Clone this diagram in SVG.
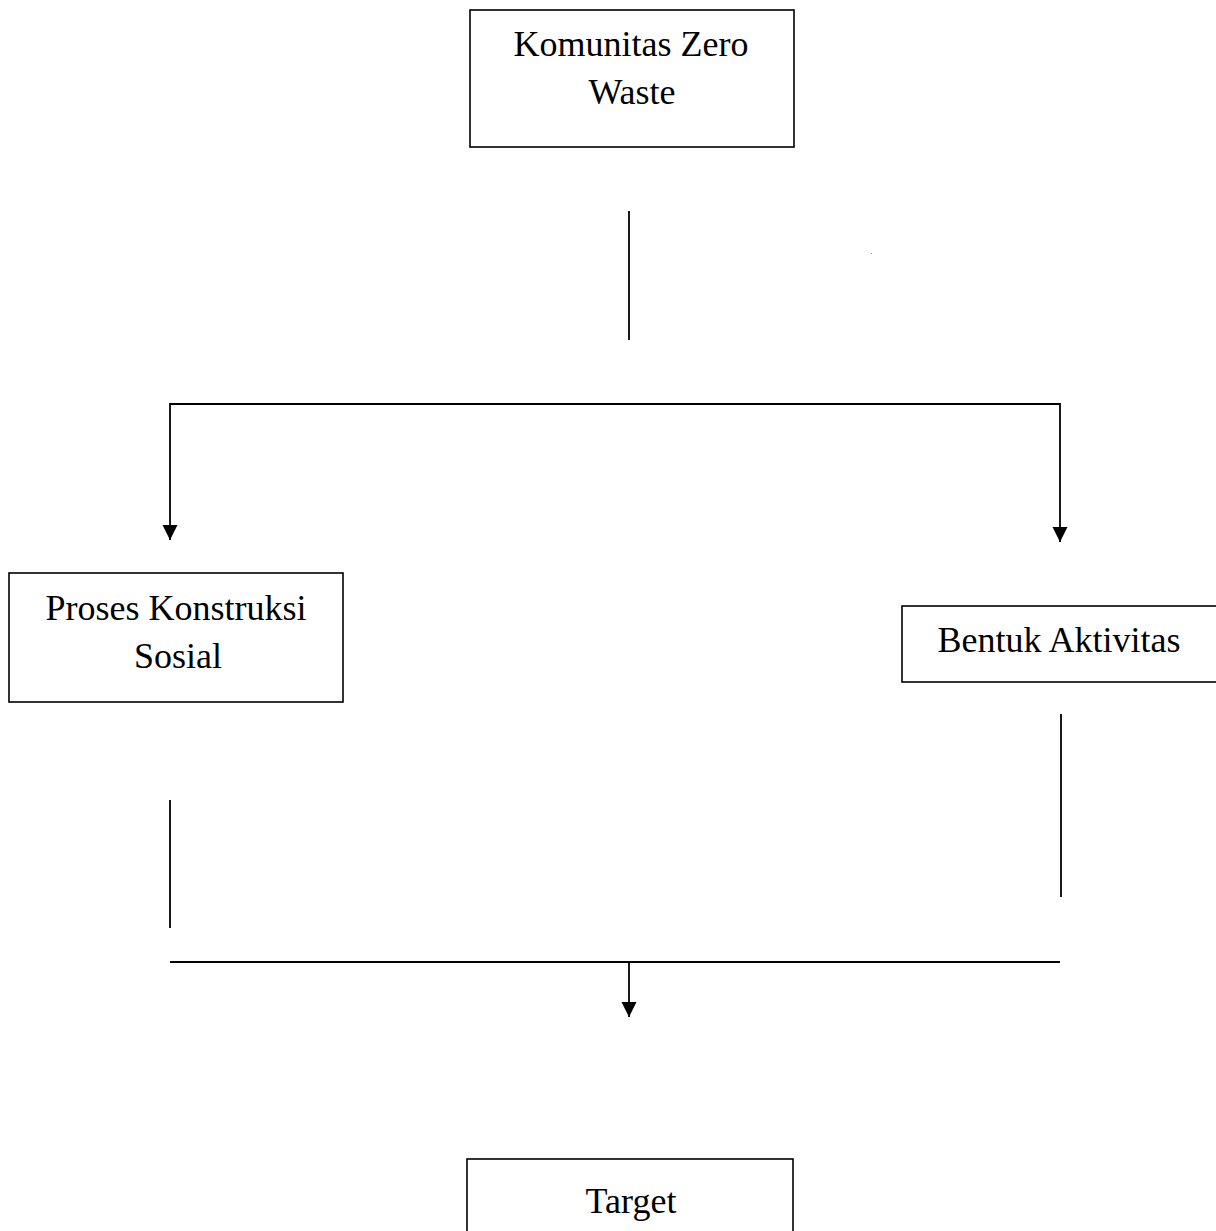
<svg xmlns="http://www.w3.org/2000/svg" width="1216" height="1231" viewBox="0 0 1216 1231">
<style>
.box{fill:#fff;stroke:#000;stroke-width:1.6}
.lbl{font-family:"Liberation Serif","Times New Roman",serif;font-size:36px;fill:#000;text-anchor:middle}
.ln{stroke:#000;stroke-width:1.8;fill:none}
</style>
<defs>
<marker id="arr" markerWidth="16" markerHeight="16" refX="15" refY="7.5" orient="auto" markerUnits="userSpaceOnUse">
<path d="M0,0 L15,7.5 L0,15 Z" fill="#000"/>
</marker>
</defs>
<rect width="1216" height="1231" fill="#fff"/>
<g id="connectors">
<line class="ln" x1="629" y1="211" x2="629" y2="340"/>
<line class="ln" x1="170" y1="404" x2="1060" y2="404"/>
<line class="ln" x1="170" y1="403" x2="170" y2="540" marker-end="url(#arr)"/>
<line class="ln" x1="1060" y1="403" x2="1060" y2="542" marker-end="url(#arr)"/>
<line class="ln" x1="170" y1="800" x2="170" y2="928"/>
<line class="ln" x1="1061" y1="714" x2="1061" y2="897"/>
<line class="ln" x1="170" y1="962" x2="1060" y2="962"/>
<line class="ln" x1="629" y1="962" x2="629" y2="1017" marker-end="url(#arr)"/>
<rect x="871" y="253" width="1" height="1" fill="#888"/>
</g>
<g id="node-komunitas">
<rect class="box" x="470" y="10" width="324" height="137"/>
<text class="lbl" x="631" y="56">Komunitas Zero</text>
<text class="lbl" x="632" y="104">Waste</text>
</g>
<g id="node-proses">
<rect class="box" x="9" y="573" width="334" height="129"/>
<text class="lbl" x="176" y="620">Proses Konstruksi</text>
<text class="lbl" x="178" y="668">Sosial</text>
</g>
<g id="node-bentuk">
<rect class="box" x="902" y="606" width="320" height="76"/>
<text class="lbl" x="1059" y="652">Bentuk Aktivitas</text>
</g>
<g id="node-target">
<rect class="box" x="467" y="1159" width="326" height="90"/>
<text class="lbl" x="631" y="1213">Target</text>
</g>
</svg>
